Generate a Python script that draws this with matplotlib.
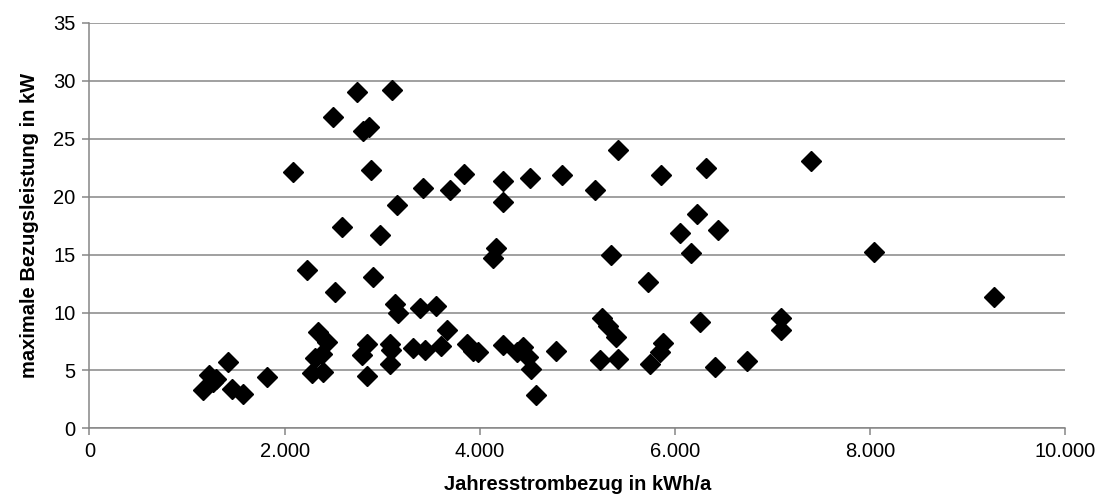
import matplotlib
matplotlib.use("Agg")
import matplotlib.pyplot as plt
from matplotlib.ticker import FuncFormatter, MultipleLocator

plt.rcParams['font.family'] = ['Liberation Sans', 'DejaVu Sans']

# Annual consumption (kWh/a) and peak demand (kW) per household
jahresstrombezug = [
    1166, 1230, 1270, 1300, 1422, 1457, 1570, 1815, 2082, 2225,
    2277, 2310, 2345, 2379, 2396, 2430, 2492, 2515, 2584, 2744,
    2789, 2806, 2840, 2840, 2867, 2884, 2908, 2977, 3079, 3096,
    3079, 3102, 3130, 3154, 3164, 3318, 3386, 3420, 3437, 3557,
    3608, 3660, 3693, 3840, 3865, 3932, 3984, 4138, 4165, 4240,
    4240, 4240, 4380, 4445, 4500, 4531, 4582, 4513, 4787, 4848,
    5179, 5230, 5254, 5320, 5343, 5400, 5418, 5418, 5725, 5743,
    5845, 5862, 5879, 6050, 6170, 6231, 6255, 6316, 6409, 6443,
    6743, 7092, 7092, 7400, 8041, 9270,
]
max_bezugsleistung = [
    3.3, 4.6, 4.0, 4.3, 5.7, 3.4, 3.0, 4.45, 22.15, 13.65,
    4.8, 6.1, 8.3, 6.4, 4.9, 7.5, 26.9, 11.8, 17.4, 29.0,
    6.3, 25.65, 4.5, 7.3, 26.05, 22.3, 13.1, 16.7, 7.3, 6.75,
    5.6, 29.25, 10.7, 19.25, 9.95, 6.9, 10.4, 20.75, 6.75, 10.6,
    7.1, 8.5, 20.6, 22.0, 7.3, 6.7, 6.6, 14.75, 15.6, 21.35,
    19.55, 7.2, 6.6, 7.0, 6.2, 5.1, 2.9, 21.6, 6.7, 21.9,
    20.6, 5.9, 9.5, 8.8, 15.0, 7.9, 24.0, 5.95, 12.6, 5.6,
    6.6, 21.9, 7.4, 16.9, 15.1, 18.5, 9.15, 22.5, 5.3, 17.1,
    5.8, 9.5, 8.5, 23.1, 15.2, 11.35,
]

x_label = "Jahresstrombezug in kWh/a"
y_label = "maximale Bezugsleistung in kW"

grey = "#868686"

fig = plt.figure(figsize=(11.06, 5.04), dpi=100)
ax = fig.add_axes([0.0809, 0.150, 0.8820, 0.8044])

ax.plot(jahresstrombezug, max_bezugsleistung, linestyle="none",
        marker="D", markersize=9.8, color="black", zorder=3)

ax.set_xlim(0, 10000)
ax.set_ylim(0, 35)
ax.xaxis.set_major_locator(MultipleLocator(2000))
ax.yaxis.set_major_locator(MultipleLocator(5))


def thousands_de(v, pos):
    return f"{int(round(v)):,}".replace(",", ".")


ax.xaxis.set_major_formatter(FuncFormatter(thousands_de))

ax.grid(axis="y", color=grey, linewidth=1.1, zorder=0)
ax.set_axisbelow(True)

for side in ("top", "right"):
    ax.spines[side].set_visible(False)
for side in ("left", "bottom"):
    ax.spines[side].set_color(grey)
    ax.spines[side].set_linewidth(1.1)

ax.tick_params(axis="both", direction="out", length=5, width=1.1,
               color=grey, labelsize=14.5, labelcolor="black", pad=5)

ax.set_xlabel(x_label, fontsize=14.5, fontweight="bold", labelpad=10)
ax.set_ylabel(y_label, fontsize=14.5, fontweight="bold", labelpad=10)

fig.savefig("out.png", dpi=100)
